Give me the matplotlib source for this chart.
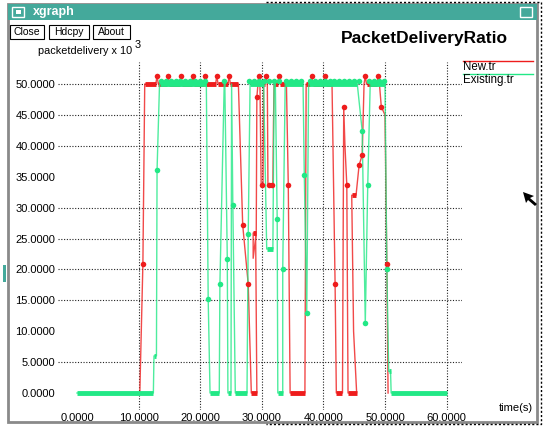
import matplotlib
matplotlib.use("Agg")
import matplotlib.pyplot as plt
from matplotlib.patches import Rectangle, Polygon

plt.rcParams['font.family'] = ['Liberation Sans', 'DejaVu Sans']

# ---- data ----
new_x = [10.2, 10.7, 11.0, 12.8, 13.0, 13.2, 14.6, 14.8, 15.0, 16.7, 16.9, 17.1,
         18.6, 18.8, 19.0, 20.6, 20.8, 21.0, 22.5, 22.7, 22.9, 24.5, 24.7, 24.9,
         26.2, 26.9, 27.8, 28.3, 29.2, 29.0, 28.6, 28.6, 29.1, 29.2, 29.5, 29.7,
         29.9, 30.2, 30.3, 30.5, 30.7, 30.9, 31.0, 31.8, 31.9, 32.0, 32.6, 32.8,
         33.0, 34.0, 34.3, 34.6, 37.0, 37.2, 37.9, 38.1, 38.3, 40.1, 40.3, 40.5,
         41.4, 41.9, 42.1, 43.1, 43.3, 43.5, 43.8, 44.0, 45.4, 44.9, 44.6, 45.3,
         45.8, 46.3, 46.6, 46.8, 47.0, 48.7, 48.9, 49.1, 49.4, 50.0, 50.3, 50.5]
new_y = [0, 20.9, 50, 50, 51.3, 50, 50, 51.3, 50, 50, 51.3, 50,
         50, 51.3, 50, 50, 51.3, 50, 50, 51.3, 50, 50, 51.3, 50,
         50, 27.2, 17.6, 0, 0, 25.9, 25.9, 21.8, 25.9, 47.9, 51.3, 50,
         33.6, 33.6, 50, 50, 51.3, 50, 33.6, 33.6, 44.0, 50, 50, 51.3,
         50, 50, 33.7, 0, 0, 50, 50, 51.3, 50, 50, 51.3, 50,
         50, 17.6, 0, 0, 46.3, 40.0, 33.7, 0, 0, 10.0, 32.0, 32.0,
         36.9, 38.5, 50, 51.3, 50, 50, 51.3, 50, 46.3, 45.0, 20.9, 0]

existing_x = [0, 12.4, 12.5, 12.9, 13.0, 13.4, 21.0, 21.3, 21.6, 23.1, 23.2, 23.9,
              24.0, 24.4, 24.5, 25.0, 25.1, 25.3, 25.7, 27.6, 27.8, 28.1, 30.3,
              30.8, 31.8, 32.0, 32.2, 32.5, 32.6, 33.4, 33.4, 33.8, 36.7, 36.9,
              37.3, 37.6, 45.5, 46.3, 46.8, 47.2, 47.6, 50.0, 50.3, 50.6, 50.9,
              51.0, 60.0]
existing_y = [0, 0, 6, 6, 36.1, 50, 50, 15.2, 0, 0, 17.6, 50,
              50, 21.7, 0, 0, 50, 30.4, 0, 0, 25.7, 50, 50,
              23.3, 23.3, 50, 50, 28.2, 0, 0, 20.1, 50, 50, 35.3,
              12.9, 50, 50, 42.4, 11.3, 33.7, 50, 50, 20.1, 3.5, 3.5,
              0, 0]

new_dot_x = [13.0, 14.8, 16.9, 18.8, 20.8, 22.7, 24.7, 29.5, 30.7, 32.8, 38.1,
             40.3, 46.8, 48.9, 10.7, 26.9, 27.8, 29.2, 34.3, 41.9, 43.3, 43.8,
             45.8, 46.3, 49.4, 50.3, 30.0, 31.2, 31.6]
new_dot_y = [51.3, 51.3, 51.3, 51.3, 51.3, 51.3, 51.3, 51.3, 51.3, 51.3, 51.3,
             51.3, 51.3, 51.3, 20.9, 27.2, 17.6, 47.9, 33.7, 17.6, 46.3, 33.7,
             36.9, 38.5, 46.3, 20.9, 33.6, 33.6, 33.6]

existing_dot_x = [13.0, 21.3, 23.2, 24.4, 25.3, 27.8, 32.5, 33.4, 36.9, 37.3,
                  46.3, 46.8, 47.2, 50.3,
                  13.6, 14.4, 15.2, 16.0, 16.8, 17.6, 18.4, 19.2, 20.0, 20.8,
                  23.9, 28.0, 28.8, 29.6, 30.4, 31.2, 32.0, 32.8, 34.0, 34.8,
                  35.6, 36.4, 37.8, 38.6, 39.4, 40.2, 41.0, 41.8, 42.6, 43.4,
                  44.2, 45.0, 45.8, 47.4, 48.2, 49.0, 49.8]
existing_dot_y = [36.1, 15.2, 17.6, 21.7, 30.4, 25.7, 28.2, 20.1, 35.3, 12.9,
                  42.4, 11.3, 33.7, 20.1,
                  50.5, 50.5, 50.5, 50.5, 50.5, 50.5, 50.5, 50.5, 50.5, 50.5,
                  50.5, 50.5, 50.5, 50.5, 50.5, 50.5, 50.5, 50.5, 50.5, 50.5,
                  50.5, 50.5, 50.5, 50.5, 50.5, 50.5, 50.5, 50.5, 50.5, 50.5,
                  50.5, 50.5, 50.5, 50.5, 50.5, 50.5, 50.5]

x_ticks = [0, 10, 20, 30, 40, 50, 60]
y_ticks = [0, 5, 10, 15, 20, 25, 30, 35, 40, 45, 50]
x_grid = [10, 20, 30, 40, 50, 60]
y_grid = [5, 15, 20, 25, 30, 40, 45, 50]   # 10 and 35 lines vanish in the shot

RED = '#ee1c1c'
GREEN = '#22e886'

W, H = 547, 426
fig = plt.figure(figsize=(W / 100, H / 100), dpi=100)

# ---- window chrome, drawn in pixel coords ----
chrome = fig.add_axes([0, 0, 1, 1])
chrome.set_xlim(0, W)
chrome.set_ylim(H, 0)
chrome.axis('off')
chrome.add_patch(Rectangle((8, 4), 529, 418, fill=False, ec='#8a8a8a', lw=2))
chrome.add_patch(Rectangle((8, 4), 529, 16, fc='#44a99b', ec='none'))
chrome.add_patch(Rectangle((12, 7), 12, 10, fc='none', ec='white', lw=1))
chrome.add_patch(Rectangle((15.5, 10), 5, 4, fc='white', ec='none'))
chrome.add_patch(Rectangle((520, 7), 12, 10, fc='none', ec='white', lw=1))
chrome.text(33, 12, 'xgraph', color='white', fontsize=9, fontweight='bold', va='center')
chrome.plot([266, 541, 541, 266], [2, 2, 424, 424], color='black', lw=1, ls=(0, (1.5, 1.5)))
chrome.add_patch(Rectangle((3, 265), 3, 17, fc='#44a99b', ec='none'))
for lbl, x0, x1 in [('Close', 10, 44), ('Hdcpy', 49, 89), ('About', 93, 130)]:
    chrome.add_patch(Rectangle((x0, 25), x1 - x0, 14, fc='white', ec='black', lw=0.8))
    chrome.text((x0 + x1) / 2, 32, lbl, fontsize=7.5, ha='center', va='center')
chrome.text(38, 51, 'packetdelivery x 10', fontsize=7.8, va='center')
chrome.text(135, 45, '3', fontsize=7.8, va='center')
chrome.text(424, 38, 'PacketDeliveryRatio', fontsize=12.5, fontweight='bold',
            ha='center', va='center')
chrome.text(499, 408, 'time(s)', fontsize=8, va='center')
chrome.plot([463, 533], [61, 61], color=RED, lw=1)
chrome.text(463, 67, 'New.tr', fontsize=8.3, va='center')
chrome.plot([463, 533], [74, 74], color=GREEN, lw=1)
chrome.text(463, 80, 'Existing.tr', fontsize=8.3, va='center')
chrome.add_patch(Polygon([(523, 192), (534, 196), (530, 198), (537, 204),
                          (535, 206), (528, 200), (526, 203)], fc='black', ec='none'))

# ---- plot area ----
ax = fig.add_axes([58 / W, (H - 410) / H, 404 / W, 348 / H])
ax.set_facecolor('none')
ax.set_xlim(-3.08, 62.5)
ax.set_ylim(-2.75, 53.56)
for s in ax.spines.values():
    s.set_visible(False)
ax.set_xticks(x_ticks)
ax.set_yticks(y_ticks)
ax.set_xticklabels([f'{v:.4f}' for v in x_ticks], fontsize=8)
ax.set_yticklabels([f'{v:.4f}' for v in y_ticks], fontsize=8)
ax.tick_params(length=0, pad=2)

for v in y_grid:
    ax.axhline(v, color='#222222', lw=0.8, ls=(0, (1, 1.5)), zorder=1)
for v in x_grid:
    ax.axvline(v, color='#222222', lw=0.8, ls=(0, (1, 1.5)), zorder=1)


def draw_series(xs, ys, color, z):
    ax.plot(xs, ys, color=color, lw=1, alpha=0.8, zorder=z)
    for i in range(len(xs) - 1):
        if ys[i] == ys[i + 1]:
            ax.plot([xs[i], xs[i + 1]], [ys[i], ys[i + 1]], color=color,
                    lw=3.5, solid_capstyle='butt', zorder=z)


draw_series(new_x, new_y, RED, 2)
draw_series(existing_x, existing_y, GREEN, 3)
ax.plot(new_dot_x, new_dot_y, 'o', color=RED, ms=4, mec='none', zorder=4)
ax.plot(existing_dot_x, existing_dot_y, 'o', color=GREEN, ms=4, mec='none', zorder=4)

fig.savefig('out.png', dpi=100)
